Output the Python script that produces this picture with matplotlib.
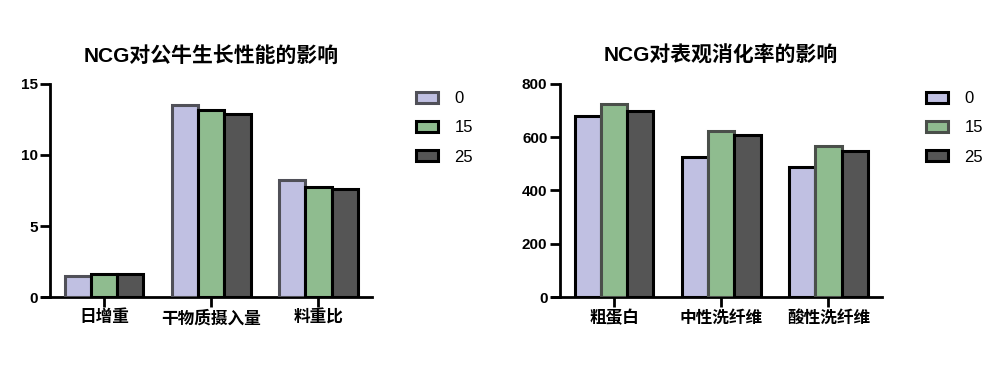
import matplotlib.pyplot as plt
import numpy as np

plt.rcParams['font.family'] = ['Liberation Sans', 'Noto Sans CJK SC', 'DejaVu Sans']

doses = ['0', '15', '25']
fill_colors = ['#c0c0e2', '#8fbc8f', '#555555']

growth_cats = ['日增重', '干物质摄入量', '料重比']
growth_vals = [
    [1.52, 13.48, 8.27],   # 0
    [1.64, 13.18, 7.76],   # 15
    [1.64, 12.90, 7.60],   # 25
]
growth_edges = ['#505058', '#000000', '#000000']

digest_cats = ['粗蛋白', '中性洗纤维', '酸性洗纤维']
digest_vals = [
    [680, 524, 488],
    [725, 624, 565],
    [696, 609, 549],
]
digest_edges = ['#000000', '#4a4f4a', '#000000']

fig = plt.figure(figsize=(10, 3.67), dpi=100)


def draw_panel(rect, cats, vals, edges, title, ylim, yticks, leg_anchor):
    ax = fig.add_axes(rect)
    x = np.arange(len(cats))
    w = 0.245
    handles = []
    for i, (v, fc, ec) in enumerate(zip(vals, fill_colors, edges)):
        b = ax.bar(x + (i - 1) * w, v, w, color=fc, edgecolor=ec, linewidth=2.2,
                   label=doses[i], zorder=3)
        handles.append(b)
    ax.set_xlim(-0.505, 2.5)
    ax.set_ylim(*ylim)
    ax.set_yticks(yticks)
    ax.set_yticklabels([str(t) for t in yticks], fontsize=11, fontweight='bold')
    ax.set_xticks(x)
    ax.set_xticklabels(cats, fontsize=12, fontweight='bold')
    for s in ['top', 'right']:
        ax.spines[s].set_visible(False)
    for s in ['left', 'bottom']:
        ax.spines[s].set_linewidth(2)
    ax.spines['bottom'].set_bounds(-0.58, 2.5)
    ax.tick_params(axis='both', width=2, length=7, pad=2)
    ax.set_title(title, fontsize=15, fontweight='bold', pad=16)
    ax.legend(handles=handles, loc='upper left', bbox_to_anchor=leg_anchor,
              frameon=False, fontsize=12, handlelength=1.3, handleheight=0.6,
              labelspacing=0.85, handletextpad=1.0)
    return ax


draw_panel([0.05, 0.19, 0.322, 0.582], growth_cats, growth_vals, growth_edges,
           'NCG对公牛生长性能的影响', (0, 15), [0, 5, 10, 15], (1.09, 1.035))
draw_panel([0.56, 0.19, 0.322, 0.582], digest_cats, digest_vals, digest_edges,
           'NCG对表观消化率的影响', (0, 800), [0, 200, 400, 600, 800], (1.09, 1.035))

fig.savefig('out.png', dpi=100)
